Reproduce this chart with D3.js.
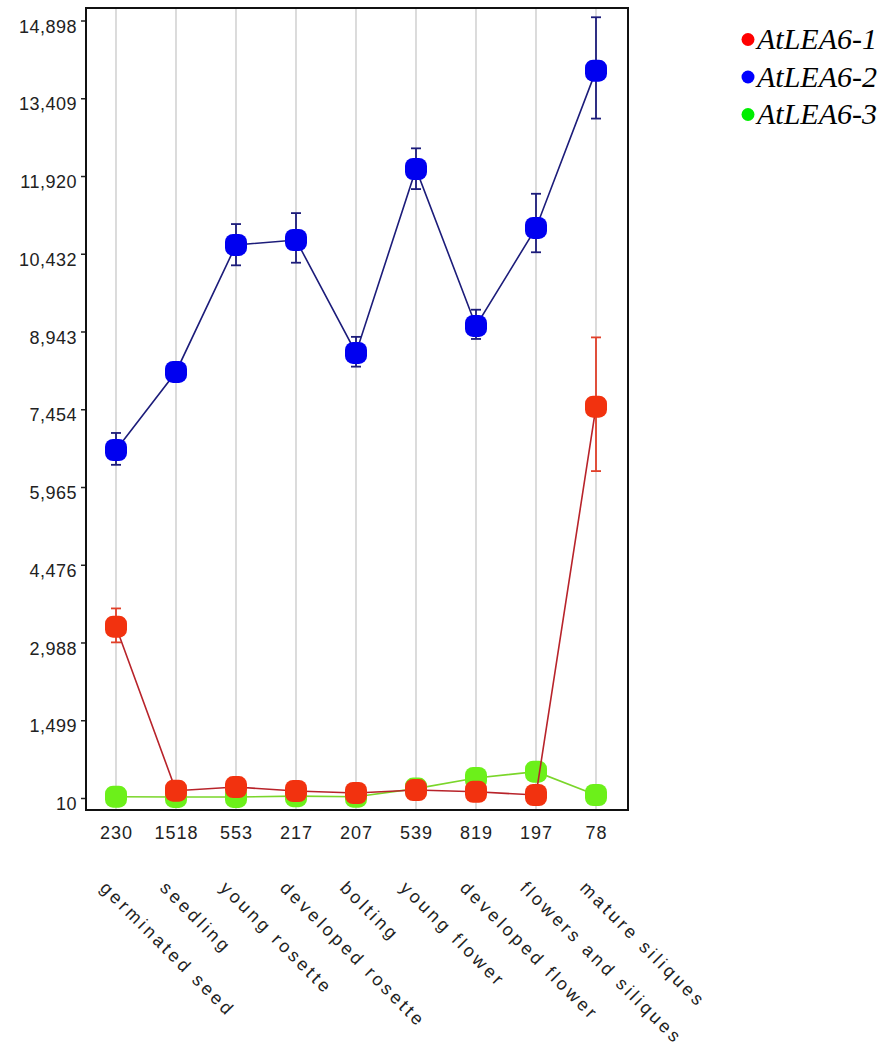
<!DOCTYPE html>
<html>
<head>
<meta charset="utf-8">
<script src="https://cdn.jsdelivr.net/npm/d3@7"></script>
<style>
  html, body { margin: 0; padding: 0; background: #fff; }
  svg { display: block; }
</style>
</head>
<body>
<svg id="chart" width="888" height="1050"></svg>
<script>
// Developmental stages and sample counts
const stages = ["germinated seed", "seedling", "young rosette", "developed rosette", "bolting",
                "young flower", "developed flower", "flowers and siliques", "mature siliques"];
const sampleCounts = ["230", "1518", "553", "217", "207", "539", "819", "197", "78"];

// Expression values (mean) and error bar extents
const lea1 = [3290, 150, 220, 144, 106, 163, 130, 67, 7503];
const lea1Lo = [2990, null, null, null, null, null, null, null, 6270];
const lea1Hi = [3640, null, null, null, null, null, null, null, 8830];

const lea2 = [6674, 8168, 10600, 10695, 8532, 12055, 9049, 10926, 13938];
const lea2Lo = [6390, null, 10210, 10260, 8270, 11670, 8800, 10460, 13020];
const lea2Hi = [7000, null, 11000, 11210, 8840, 12450, 9360, 11580, 14960];

const lea3 = [35, 30, 30, 45, 35, 190, 393, 514, 67];

const yTicks = [10, 1499, 2988, 4476, 5965, 7454, 8943, 10432, 11920, 13409, 14898];
const seriesNames = ["AtLEA6-1", "AtLEA6-2", "AtLEA6-3"];

const svg = d3.select("#chart");

const frame = { left: 86, right: 628, top: 8, bottom: 810 };

const x = d3.scalePoint()
  .domain(d3.range(stages.length))
  .range([116, 596]);

const y = d3.scaleLinear()
  .domain([10, 14898])
  .range([798, 20.5]);

// vertical grid lines at each stage
svg.append("g")
  .selectAll("line")
  .data(d3.range(stages.length))
  .join("line")
  .attr("x1", d => x(d)).attr("x2", d => x(d))
  .attr("y1", frame.top).attr("y2", frame.bottom)
  .attr("stroke", "#c4c4c4")
  .attr("stroke-width", 1.2);

// left axis
const yAxis = d3.axisLeft(y)
  .tickValues(yTicks)
  .tickFormat(d3.format(","))
  .tickSize(5)
  .tickPadding(4);

const gy = svg.append("g")
  .attr("transform", `translate(${frame.left},0)`)
  .call(yAxis);
gy.select(".domain").remove();
gy.selectAll(".tick line").attr("stroke", "#222").attr("stroke-width", 1.5);
gy.selectAll(".tick text")
  .attr("font-family", "Liberation Sans, Arial, sans-serif")
  .attr("font-size", 18)
  .attr("letter-spacing", 0.5)
  .attr("dy", "0.65em")
  .attr("fill", "#222");

// sample counts under the plot
const xAxis = d3.axisBottom(x)
  .tickFormat(i => sampleCounts[i])
  .tickSize(0)
  .tickPadding(16);
const gx = svg.append("g")
  .attr("transform", `translate(0,${frame.bottom})`)
  .call(xAxis);
gx.select(".domain").remove();
gx.selectAll(".tick text")
  .attr("font-family", "Liberation Sans, Arial, sans-serif")
  .attr("font-size", 18)
  .attr("letter-spacing", 1)
  .attr("fill", "#222");

// rotated stage names
svg.append("g")
  .selectAll("text")
  .data(stages)
  .join("text")
  .attr("transform", (d, i) => `translate(${x(i) - 17},${889}) rotate(45)`)
  .attr("font-family", "Liberation Sans, Arial, sans-serif")
  .attr("font-size", 18)
  .attr("letter-spacing", 3.2)
  .attr("fill", "#222")
  .text(d => d);

// plot frame
svg.append("rect")
  .attr("x", frame.left).attr("y", frame.top)
  .attr("width", frame.right - frame.left)
  .attr("height", frame.bottom - frame.top)
  .attr("fill", "none")
  .attr("stroke", "#111")
  .attr("stroke-width", 2);

function drawSeries(values, lo, hi, lineColor, markColor, barColor) {
  const g = svg.append("g");
  const line = d3.line().x((d, i) => x(i)).y(d => y(d));
  g.append("path")
    .datum(values)
    .attr("d", line)
    .attr("fill", "none")
    .attr("stroke", lineColor)
    .attr("stroke-width", 1.6);

  if (lo) {
    const bars = values.map((v, i) => ({ i, lo: lo[i], hi: hi[i] })).filter(d => d.lo != null);
    const eb = g.append("g").attr("stroke", barColor).attr("stroke-width", 1.8);
    eb.selectAll("line.v").data(bars).join("line").attr("class", "v")
      .attr("x1", d => x(d.i)).attr("x2", d => x(d.i))
      .attr("y1", d => y(d.lo)).attr("y2", d => y(d.hi));
    eb.selectAll("line.t").data(bars).join("line").attr("class", "t")
      .attr("x1", d => x(d.i) - 5).attr("x2", d => x(d.i) + 5)
      .attr("y1", d => y(d.hi)).attr("y2", d => y(d.hi));
    eb.selectAll("line.b").data(bars).join("line").attr("class", "b")
      .attr("x1", d => x(d.i) - 5).attr("x2", d => x(d.i) + 5)
      .attr("y1", d => y(d.lo)).attr("y2", d => y(d.lo));
  }

  g.selectAll("rect.mark")
    .data(values)
    .join("rect")
    .attr("class", "mark")
    .attr("x", (d, i) => x(i) - 11)
    .attr("y", d => y(d) - 11)
    .attr("width", 22).attr("height", 22)
    .attr("rx", 8).attr("ry", 8)
    .attr("fill", markColor);
}

drawSeries(lea3, null, null, "#7ad62a", "#6cf01a", null);
drawSeries(lea1, lea1Lo, lea1Hi, "#b8232a", "#f2320f", "#e0402a");
drawSeries(lea2, lea2Lo, lea2Hi, "#1c1c7a", "#0000f0", "#1c1c7a");

// legend
const legendColors = ["#ff0000", "#0000ff", "#00ee00"];
const lg = svg.append("g");
seriesNames.forEach((name, i) => {
  const yy = 39.5 + i * 37.5;
  lg.append("circle")
    .attr("cx", 748).attr("cy", yy).attr("r", 6.5)
    .attr("fill", legendColors[i]);
  lg.append("text")
    .attr("x", 757).attr("y", yy + 9.5)
    .attr("font-family", "Liberation Serif, Times New Roman, serif")
    .attr("font-style", "italic")
    .attr("font-size", 30)
    .attr("fill", "#000")
    .text(name);
});
</script>
</body>
</html>
